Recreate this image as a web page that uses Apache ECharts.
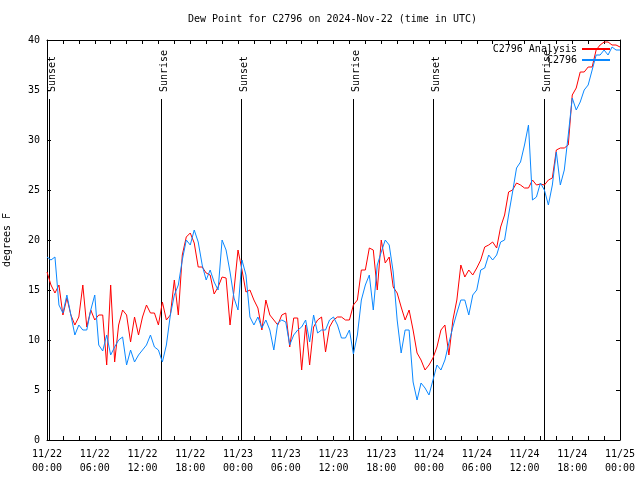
<!DOCTYPE html>
<html>
<head>
<meta charset="utf-8">
<script src="https://cdn.jsdelivr.net/npm/echarts@6/dist/echarts.min.js"></script>
<style>html,body{margin:0;padding:0;background:#fff;}#c{width:640px;height:480px;}</style>
</head>
<body>
<div id="c"></div>
<script>
// Time in hours since 2024-11-22 00:00 UTC, sampled every 30 minutes
const stepHours = 0.5;
const analysisValues = [
  16.8, 15.5, 14.7, 15.5, 12.5, 14.2, 12.5, 11.5, 12.3, 15.5, 11.3, 13.0,
  12.0, 12.5, 12.5, 7.5, 15.5, 7.8, 11.5, 13.0, 12.5, 9.8, 12.3, 10.5,
  12.3, 13.5, 12.7, 12.7, 11.5, 13.8, 12.0, 12.5, 16.0, 12.5, 18.5, 20.3,
  20.7, 19.7, 17.3, 17.3, 16.7, 16.5, 14.6, 15.3, 16.3, 16.2, 11.5, 15.0,
  19.0, 17.0, 14.8, 15.0, 14.0, 13.2, 11.0, 14.0, 12.5, 12.0, 11.5, 12.5,
  12.7, 9.3, 12.2, 12.2, 7.0, 11.5, 7.5, 11.3, 12.0, 12.3, 8.8, 11.3,
  12.0, 12.3, 12.3, 12.0, 12.0, 13.5, 14.0, 17.0, 17.0, 19.2, 19.0, 15.0,
  20.0, 17.7, 18.3, 15.3, 14.7, 13.3, 12.0, 13.0, 11.0, 8.7, 8.0, 7.0,
  7.5, 8.2, 9.3, 11.0, 11.5, 8.5, 12.0, 14.0, 17.5, 16.3, 17.0, 16.5,
  17.2, 18.0, 19.3, 19.5, 19.8, 19.2, 21.3, 22.5, 24.8, 25.0, 25.7, 25.5,
  25.2, 25.2, 26.0, 25.5, 25.6, 25.5, 26.0, 26.2, 29.0, 29.2, 29.2, 29.5,
  34.5, 35.2, 36.8, 36.8, 37.3, 37.3, 39.0, 39.5, 39.8, 39.8, 39.5, 39.5,
  39.3
];
const stationValues = [
  18.3, 18.0, 18.3, 13.5, 12.7, 14.5, 12.5, 10.5, 11.5, 11.0, 11.0, 13.0,
  14.5, 9.5, 8.9, 10.5, 8.5, 9.3, 10.0, 10.3, 7.5, 9.0, 7.8, 8.5,
  9.0, 9.5, 10.5, 9.3, 9.0, 7.8, 9.5, 12.5, 14.5, 15.5, 18.0, 20.0,
  19.5, 21.0, 19.8, 17.5, 16.0, 17.0, 15.8, 15.0, 20.0, 19.0, 16.8, 14.2,
  13.0, 18.0, 16.5, 12.3, 11.5, 12.3, 11.2, 12.0, 11.0, 9.0, 11.7, 12.0,
  11.8, 9.5, 10.5, 11.0, 11.3, 12.0, 9.8, 12.5, 10.7, 11.0, 11.0, 12.0,
  12.3, 11.5, 10.2, 10.2, 11.0, 8.6, 10.5, 14.0, 15.5, 16.5, 13.0, 17.5,
  18.8, 20.0, 19.5, 16.8, 12.0, 8.7, 11.0, 11.0, 5.8, 4.0, 5.7, 5.2,
  4.5, 6.0, 7.5, 7.0, 8.0, 9.7, 11.3, 12.7, 14.0, 14.0, 12.5, 14.5,
  15.0, 17.0, 17.2, 18.5, 18.0, 18.5, 19.8, 20.0, 22.5, 24.8, 27.2, 27.8,
  29.5, 31.5, 24.0, 24.3, 25.7, 25.0, 23.5, 25.5, 28.8, 25.5, 27.0, 30.5,
  34.2, 33.0, 33.8, 35.0, 35.5, 37.0, 38.5, 38.5, 39.0, 38.5, 39.3, 39.0,
  39.0
];
const xTickLabels = [
  '11/22\n00:00', '11/22\n06:00', '11/22\n12:00', '11/22\n18:00',
  '11/23\n00:00', '11/23\n06:00', '11/23\n12:00', '11/23\n18:00',
  '11/24\n00:00', '11/24\n06:00', '11/24\n12:00', '11/24\n18:00',
  '11/25\n00:00'
];
const sunEvents = ['Sunset', 'Sunrise', 'Sunset', 'Sunrise', 'Sunset', 'Sunrise'];
const sunHours = [0.3, 14.35, 24.4, 38.45, 48.5, 62.5];
const sunLineTop = 34.1;
const sunLabelBase = 34.8;

const FONT = '"DejaVu Sans Mono", "Liberation Mono", monospace';
const toPairs = vals => vals.map((v, i) => [i * stepHours, v]);

const chart = echarts.init(document.getElementById('c'), null, {renderer: 'canvas'});
const tickStyle = {color: '#000', width: 1};
const option = {
  backgroundColor: '#fff',
  animation: false,
  title: {
    text: 'Dew Point for C2796 on 2024-Nov-22 (time in UTC)',
    left: 188, top: 14, padding: 0,
    textStyle: {fontFamily: FONT, fontSize: 10, fontWeight: 'normal', color: '#000'}
  },
  legend: {
    orient: 'vertical', right: 30, top: 44, padding: 0,
    align: 'right', itemWidth: 28, itemHeight: 2, itemGap: 1, icon: 'rect',
    textStyle: {fontFamily: FONT, fontSize: 10, color: '#000'},
    data: ['C2796 Analysis', 'C2796']
  },
  grid: {left: 47, right: 20, top: 40, bottom: 40, containLabel: false, outerBoundsMode: 'none'},
  xAxis: [{
    type: 'value', min: 0, max: 72, interval: 2, position: 'bottom',
    axisLine: {show: true, onZero: false, lineStyle: tickStyle},
    axisTick: {show: true, inside: true, length: 4, lineStyle: tickStyle},
    axisLabel: {
      formatter: v => (v % 6 === 0 ? xTickLabels[v / 6] : ''),
      fontFamily: FONT, fontSize: 10, color: '#000', lineHeight: 14, margin: 7,
      showMinLabel: true, showMaxLabel: true
    },
    splitLine: {show: false}
  }, {
    type: 'value', min: 0, max: 72, interval: 2, position: 'top',
    axisLine: {show: true, onZero: false, lineStyle: tickStyle},
    axisTick: {show: true, inside: true, length: 4, lineStyle: tickStyle},
    axisLabel: {show: false}, splitLine: {show: false}
  }],
  yAxis: [{
    type: 'value', min: 0, max: 40, interval: 5, position: 'left',
    name: 'degrees F', nameLocation: 'middle', nameGap: 35, nameRotate: 90,
    nameTextStyle: {fontFamily: FONT, fontSize: 10, color: '#000'},
    axisLine: {show: true, onZero: false, lineStyle: tickStyle},
    axisTick: {show: true, inside: true, length: 4, lineStyle: tickStyle},
    axisLabel: {fontFamily: FONT, fontSize: 10, color: '#000', margin: 7},
    splitLine: {show: false}
  }, {
    type: 'value', min: 0, max: 40, interval: 5, position: 'right',
    axisLine: {show: true, onZero: false, lineStyle: tickStyle},
    axisTick: {show: true, inside: true, length: 4, lineStyle: tickStyle},
    axisLabel: {show: false}, splitLine: {show: false}
  }],
  series: [{
    type: 'custom',
    silent: true,
    data: sunHours.map((h, i) => [h, i]),
    renderItem: function (params, api) {
      const t = api.value(0);
      const idx = api.value(1);
      const p0 = api.coord([t, 0]);
      const p1 = api.coord([t, sunLineTop]);
      const pl = api.coord([t, sunLabelBase]);
      const x = Math.round(p0[0]) + 0.5;
      return {
        type: 'group',
        children: [{
          type: 'line',
          shape: {x1: x, y1: p0[1], x2: x, y2: p1[1]},
          style: {stroke: '#000', lineWidth: 1}
        }, {
          type: 'text',
          x: x + 2.5, y: pl[1],
          rotation: Math.PI / 2,
          style: {
            text: sunEvents[idx], font: '10px ' + FONT, fill: '#000',
            textAlign: 'left', textVerticalAlign: 'middle'
          }
        }]
      };
    },
    z: 1
  }, {
    name: 'C2796 Analysis', type: 'line', data: toPairs(analysisValues),
    showSymbol: false, symbol: 'none',
    lineStyle: {color: '#ff0000', width: 1}, itemStyle: {color: '#ff0000'}, z: 2
  }, {
    name: 'C2796', type: 'line', data: toPairs(stationValues),
    showSymbol: false, symbol: 'none',
    lineStyle: {color: '#0a88ff', width: 1}, itemStyle: {color: '#0a88ff'}, z: 3
  }]
};
chart.setOption(option);
</script>
</body>
</html>
